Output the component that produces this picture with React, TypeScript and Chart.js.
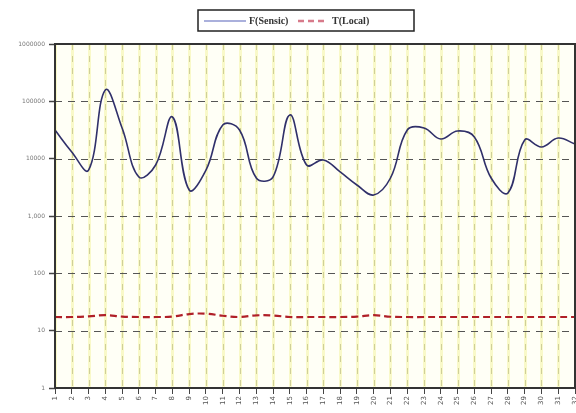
import React, { useEffect, useRef } from "react";
import { Chart, registerables } from "chart.js";

Chart.register(...registerables);

const categories: string[] = [
  "1", "2", "3", "4", "5", "6", "7", "8", "9", "10", "11", "12", "13", "14", "15", "16",
  "17", "18", "19", "20", "21", "22", "23", "24", "25", "26", "27", "28", "29", "30", "31", "32",
];

const seriesF: number[] = [
  31600, 13100, 6300, 158000, 34300, 4800, 7750, 53300, 2840, 6300, 38700, 31600, 4600, 4800, 57800, 7750,
  9500, 5860, 3470, 2330, 4600, 31600, 34300, 22000, 30400, 23900, 4600, 2520, 21200, 16000, 22900, 18000,
];

const seriesT: number[] = [
  17.3, 17.3, 17.8, 18.6, 17.6, 17.3, 17.3, 17.6, 19.5, 19.8, 18.2, 17.3, 18.5, 18.4, 17.3, 17.3,
  17.3, 17.3, 17.6, 18.6, 17.5, 17.3, 17.3, 17.3, 17.3, 17.3, 17.3, 17.3, 17.3, 17.3, 17.3, 17.3,
];

const yTicks: number[] = [1, 10, 100, 1000, 10000, 100000, 1000000];
const yTickLabels: string[] = ["1", "10", "100", "1,000", "10000", "100000", "1000000"];

const legendLabels: string[] = ["F(Sensic)", "T(Local)"];

const framePlugin = {
  id: "framePlugin",
  beforeDatasetsDraw(chart: any) {
    const { ctx, chartArea: a, scales } = chart;
    ctx.save();
    ctx.fillStyle = "#fffff6";
    ctx.fillRect(a.left, a.top, a.right - a.left, a.bottom - a.top);
    const xs = scales.x;
    for (let i = 0; i < categories.length; i++) {
      const x = Math.round(xs.getPixelForValue(i)) + 0.5;
      ctx.strokeStyle = "rgba(248,248,190,0.8)";
      ctx.lineWidth = 3;
      ctx.setLineDash([]);
      ctx.beginPath();
      ctx.moveTo(x, a.top);
      ctx.lineTo(x, a.bottom);
      ctx.stroke();
      ctx.strokeStyle = "#cfcf98";
      ctx.lineWidth = 1;
      ctx.setLineDash([6, 6]);
      ctx.beginPath();
      ctx.moveTo(x, a.top);
      ctx.lineTo(x, a.bottom);
      ctx.stroke();
    }
    const ys = scales.y;
    ctx.strokeStyle = "#555555";
    ctx.lineWidth = 1;
    ctx.setLineDash([7, 6]);
    for (const v of yTicks) {
      const y = Math.round(ys.getPixelForValue(v)) + 0.5;
      ctx.beginPath();
      ctx.moveTo(a.left, y);
      ctx.lineTo(a.right, y);
      ctx.stroke();
    }
    ctx.restore();
  },
  afterDraw(chart: any) {
    const { ctx, chartArea: a } = chart;
    ctx.save();
    ctx.setLineDash([]);
    ctx.strokeStyle = "#333333";
    ctx.lineWidth = 2;
    ctx.strokeRect(a.left, a.top, a.right - a.left, a.bottom - a.top);

    // legend box
    const bx = 198, by = 10, bw = 216, bh = 21;
    ctx.fillStyle = "#ffffff";
    ctx.fillRect(bx, by, bw, bh);
    ctx.strokeStyle = "#222222";
    ctx.lineWidth = 1.5;
    ctx.strokeRect(bx, by, bw, bh);
    const cy = by + bh / 2 + 0.5;
    ctx.strokeStyle = "#aab0dc";
    ctx.lineWidth = 2;
    ctx.beginPath();
    ctx.moveTo(bx + 6, cy);
    ctx.lineTo(bx + 48, cy);
    ctx.stroke();
    ctx.fillStyle = "#333333";
    ctx.font = "bold 10px 'Liberation Serif'";
    ctx.textBaseline = "middle";
    ctx.textAlign = "left";
    ctx.fillText(legendLabels[0], bx + 51, cy);
    ctx.strokeStyle = "#d77a8a";
    ctx.lineWidth = 2.5;
    ctx.setLineDash([6, 4]);
    ctx.beginPath();
    ctx.moveTo(bx + 100, cy);
    ctx.lineTo(bx + 130, cy);
    ctx.stroke();
    ctx.setLineDash([]);
    ctx.fillText(legendLabels[1], bx + 134, cy);
    ctx.restore();
  },
};

export default function App() {
  const ref = useRef<HTMLCanvasElement | null>(null);
  useEffect(() => {
    document.body.style.margin = "0";
    const canvas = ref.current;
    if (!canvas) return;
    const chart = new Chart(canvas, {
      type: "line",
      data: {
        labels: categories,
        datasets: [
          {
            label: legendLabels[0],
            data: seriesF,
            borderColor: "#30306a",
            borderWidth: 1.6,
            pointRadius: 0,
            tension: 0.4,
            fill: false,
          },
          {
            label: legendLabels[1],
            data: seriesT,
            borderColor: "#b02028",
            borderWidth: 2.2,
            borderDash: [7, 4],
            pointRadius: 0,
            tension: 0.4,
            fill: false,
          },
        ],
      },
      options: {
        responsive: false,
        animation: false,
        layout: { padding: { top: 44, right: 1, left: 0, bottom: 0 } },
        plugins: {
          legend: { display: false },
          tooltip: { enabled: false },
          title: { display: false },
        },
        scales: {
          x: {
            type: "category",
            offset: false,
            grid: {
              display: true,
              drawOnChartArea: false,
              drawTicks: true,
              tickLength: 6,
              tickColor: "#444444",
              tickWidth: 1,
            },
            border: { display: false },
            ticks: {
              autoSkip: false,
              maxRotation: 90,
              minRotation: 90,
              padding: 2,
              color: "#555555",
              font: { size: 7, family: "'DejaVu Sans'" },
            },
            afterFit(scale: any) {
              scale.height = 25;
              scale.paddingLeft = 0;
              scale.paddingRight = 0;
            },
          },
          y: {
            type: "logarithmic",
            min: 1,
            max: 1000000,
            grid: {
              display: true,
              drawOnChartArea: false,
              drawTicks: true,
              tickLength: 6,
              tickColor: "#444444",
              tickWidth: 1.5,
            },
            border: { display: false },
            afterBuildTicks(scale: any) {
              scale.ticks = yTicks.map((v) => ({ value: v }));
            },
            ticks: {
              color: "#777777",
              padding: 4,
              font: { size: 6, family: "'DejaVu Sans'" },
              callback: (value: any) => {
                const idx = yTicks.indexOf(Number(value));
                return idx >= 0 ? yTickLabels[idx] : "";
              },
            },
            afterFit(scale: any) {
              scale.width = 55;
            },
          },
        },
      },
      plugins: [framePlugin],
    } as any);
    return () => chart.destroy();
  }, []);
  return (
    <div style={{ position: "absolute", left: 0, top: 0, width: 576, height: 413 }}>
      <canvas ref={ref} width={576} height={413} style={{ width: 576, height: 413 }} />
    </div>
  );
}
